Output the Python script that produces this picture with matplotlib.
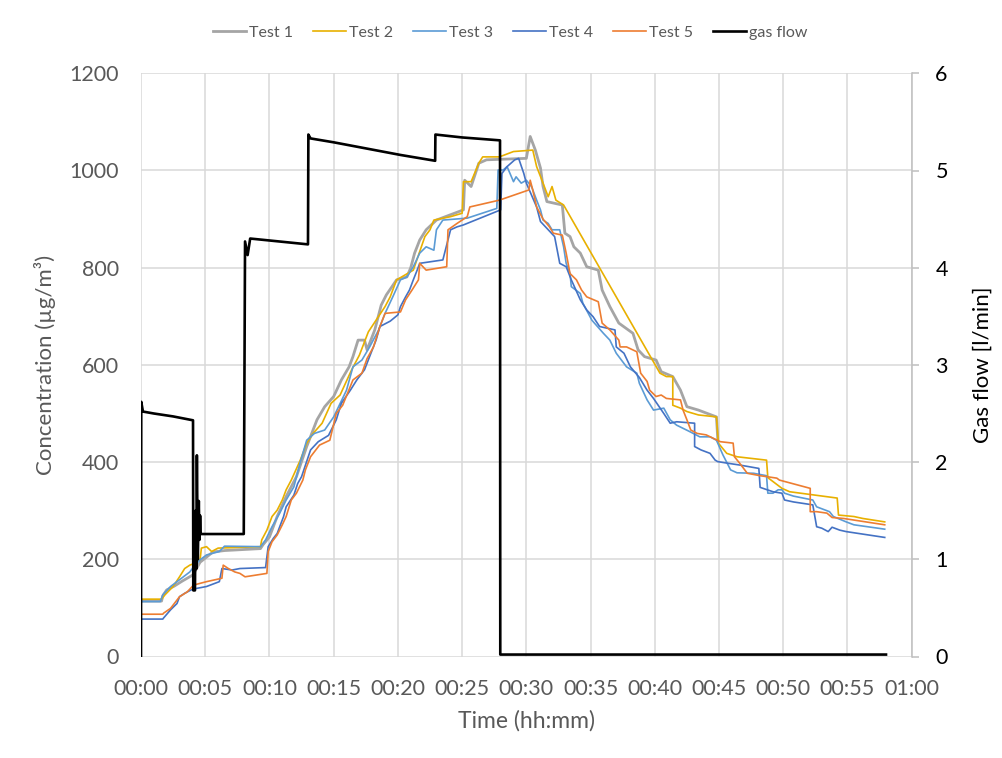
import matplotlib
matplotlib.use("Agg")
from matplotlib import pyplot as plt

plt.rcParams['font.family'] = ['Lato', 'DejaVu Sans']

# time in minutes, concentration in ug/m3
test1_t = [0, 1.6, 1.7, 2.0, 2.6, 3.2, 4.05, 4.6, 5.6, 6.5, 9.3, 9.5, 10.0, 10.6, 11.3, 12.1, 12.9, 13.7, 14.3,
           15.0, 15.6, 16.2, 16.5, 16.9, 17.4, 17.6, 18.2, 18.7, 19.1, 19.9, 20.7, 21.0, 21.3, 21.7, 22.2, 23.0,
           25.1, 25.2, 25.7, 26.3, 26.9, 30.0, 30.3, 30.7, 31.1, 31.3, 31.6, 32.8, 33.0, 33.4, 33.7, 34.2, 34.7,
           35.6, 35.9, 36.5, 37.2, 38.3, 38.7, 39.2, 40.1, 40.5, 41.4, 42.0, 42.5, 43.4, 44.8, 44.9]
test1_c = [114, 114, 125, 137, 145, 155, 168, 194, 215, 218, 222, 230, 246, 288, 329, 370, 432, 487, 514,
           535, 569, 596, 617, 651, 651, 631, 672, 723, 744, 775, 781, 800, 830, 857, 878, 898,
           919, 980, 967, 1015, 1022, 1025, 1070, 1042, 1005, 967, 936, 929, 871, 864, 843, 830, 802,
           795, 754, 720, 686, 665, 631, 617, 610, 586, 576, 548, 514, 507, 493, 448]

test2_t = [0, 1.6, 1.87, 2.5, 3.0, 3.4, 3.8, 4.2, 4.6, 4.7, 5.1, 5.5, 6.0, 9.3, 9.4, 9.8, 10.2, 10.6, 11.0,
           11.3, 11.7, 12.4, 12.9, 13.4, 14.1, 14.8, 15.5, 16.4, 17.0, 17.7, 18.3, 19.0, 19.4, 19.9, 21.2,
           22.1, 22.5, 22.8, 24.1, 25.0, 25.1, 25.7, 26.3, 26.6, 27.9, 29.0, 30.5, 30.8, 31.3, 31.7, 32.0,
           32.3, 32.9, 40.4, 40.9, 41.4, 41.4, 42.0, 42.5, 43.4, 44.8, 44.95, 45.6, 46.4, 48.7, 48.8, 49.9,
           50.5, 54.2, 54.3, 55.5, 56.2, 57.9]
test2_c = [118, 118, 127, 144, 164, 181, 188, 192, 199, 223, 226, 216, 223, 226, 240, 260, 288, 301, 322,
           343, 363, 404, 439, 459, 480, 521, 538, 590, 620, 668, 692, 720, 740, 775, 795,
           864, 878, 898, 905, 912, 977, 977, 1015, 1028, 1028, 1039, 1042, 1008, 974, 946, 967,
           939, 929, 583, 576, 576, 517, 511, 504, 497, 493, 439, 418, 411, 404, 368, 346,
           339, 326, 291, 288, 284, 277]

test3_t = [0, 1.5, 1.7, 2.3, 2.8, 3.3, 3.8, 4.2, 4.6, 5.1, 6.1, 6.5, 9.3, 9.7, 10.2, 10.8, 11.3, 11.9, 12.4,
           12.9, 13.5, 14.3, 15.0, 16.0, 16.5, 17.2, 17.8, 18.5, 19.0, 19.6, 20.2, 20.7, 21.2, 21.7, 22.2,
           22.8, 23.0, 23.5, 25.4, 27.7, 27.8, 28.2, 28.5, 29.0, 29.2, 29.6, 30.0, 30.4, 30.8, 31.1, 31.3,
           31.7, 32.0, 32.6, 32.9, 33.1, 33.4, 33.5, 34.2, 34.4, 35.1, 36.0, 36.5, 37.0, 37.8, 38.6, 38.8,
           39.4, 39.9, 40.7, 41.2, 41.7, 42.7, 43.5, 44.3, 44.8, 45.3, 45.9, 46.4, 47.7, 48.7, 48.8, 49.2,
           49.6, 49.9, 50.1, 50.8, 52.3, 52.6, 53.6, 53.9, 54.9, 55.5, 57.9]
test3_c = [113, 113, 127, 144, 154, 164, 174, 188, 199, 209, 216, 227, 226, 240, 267, 295, 322, 349, 400,
           445, 459, 466, 493, 548, 596, 610, 637, 672, 706, 740, 775, 781, 802, 830, 843,
           836, 878, 898, 902, 922, 1001, 1001, 1008, 977, 987, 974, 980, 967, 939, 919, 898,
           891, 878, 878, 843, 809, 788, 761, 747, 727, 692, 665, 651, 624, 596, 583, 562,
           528, 507, 511, 487, 476, 463, 452, 452, 445, 415, 384, 378, 377, 372, 336, 336,
           343, 343, 336, 330, 322, 308, 298, 288, 277, 271, 262]

test4_t = [0, 1.7, 1.75, 2.3, 2.8, 3.0, 3.4, 3.9, 4.3, 5.1, 6.1, 6.3, 7.1, 7.7, 9.7, 9.8, 9.9, 10.3, 10.6,
           11.1, 11.3, 11.9, 12.2, 12.5, 13.2, 13.8, 14.6, 15.2, 15.6, 16.3, 16.8, 17.4, 17.9, 18.3, 18.6,
           19.4, 20.0, 20.2, 20.6, 20.9, 21.2, 21.5, 21.7, 23.5, 24.1, 24.6, 25.1, 28.0, 28.1, 28.5, 29.1,
           29.4, 29.8, 30.0, 30.8, 31.1, 31.6, 32.2, 32.6, 33.1, 33.5, 34.2, 34.7, 35.2, 35.7, 36.9, 37.0,
           37.6, 38.1, 38.8, 39.4, 39.9, 40.7, 41.2, 41.7, 43.1, 43.1, 43.6, 44.3, 44.7, 44.9, 45.6, 46.6,
           48.1, 48.2, 49.2, 49.9, 50.1, 50.8, 52.3, 52.6, 53.0, 53.5, 53.8, 54.4, 54.9, 57.9]
test4_c = [77, 77, 79, 96, 109, 123, 130, 137, 140, 144, 154, 181, 178, 181, 183, 205, 226, 243, 253,
           288, 308, 332, 356, 370, 425, 442, 455, 487, 521, 548, 569, 590, 624, 651, 679,
           690, 703, 720, 740, 754, 775, 795, 809, 816, 878, 884, 888, 919, 994, 1008, 1022,
           1025, 994, 974, 925, 895, 881, 864, 809, 802, 775, 734, 713, 699, 679, 672, 637,
           624, 596, 574, 548, 531, 500, 480, 483, 480, 432, 425, 418, 404, 401, 398, 394,
           387, 348, 339, 336, 322, 318, 312, 267, 264, 257, 266, 260, 257, 245]

test5_t = [0, 1.7, 1.75, 2.3, 3.0, 3.6, 4.1, 5.1, 6.3, 6.4, 6.8, 7.3, 7.7, 8.1, 9.8, 9.9, 10.2, 10.6, 11.0,
           11.3, 11.7, 12.1, 12.6, 12.8, 13.2, 13.9, 14.7, 15.2, 15.7, 16.5, 17.2, 17.6, 18.1, 18.6, 19.0,
           20.2, 20.6, 21.1, 21.6, 21.7, 22.2, 23.8, 23.9, 24.6, 25.4, 25.6, 27.9, 30.2, 30.3, 30.5, 30.8,
           31.3, 31.8, 32.1, 32.8, 33.1, 33.4, 33.9, 34.3, 34.7, 35.6, 35.9, 36.5, 37.2, 37.3, 37.8, 38.6,
           38.9, 39.4, 39.6, 40.1, 40.5, 40.9, 42.0, 42.2, 42.5, 42.8, 43.3, 44.0, 45.1, 46.1, 46.2, 46.6,
           47.2, 48.2, 49.5, 49.7, 52.1, 52.1, 52.6, 53.4, 53.8, 54.7, 57.9]
test5_c = [87, 87, 89, 99, 123, 133, 147, 154, 161, 188, 181, 174, 171, 164, 171, 216, 236, 250, 271,
           288, 322, 336, 363, 384, 411, 435, 445, 500, 517, 569, 583, 613, 637, 679, 706,
           709, 734, 754, 775, 809, 795, 802, 878, 891, 905, 925, 939, 960, 980, 960, 925,
           900, 884, 871, 867, 830, 788, 775, 754, 740, 730, 686, 672, 651, 637, 637, 627,
           583, 566, 548, 535, 538, 531, 528, 507, 487, 466, 459, 456, 442, 439, 411, 398,
           377, 372, 367, 363, 346, 298, 298, 295, 286, 284, 271]

# gas flow in l/min (secondary axis)
gas_t = [0, 0.02, 0.15, 1.0, 2.5, 4.05, 4.07, 4.2, 4.25, 4.3, 4.35, 4.42, 4.5, 4.55, 4.6, 4.65, 6.0, 8.0,
         8.1, 8.3, 8.5, 10.0, 13.0, 13.03, 13.2, 15.0, 20.2, 22.9, 22.92, 25.0, 27.95, 27.97, 58.0]
gas_f = [0, 2.62, 2.52, 2.50, 2.47, 2.43, 0.68, 0.68, 1.5, 0.9, 2.07, 1.0, 1.6, 1.2, 1.45, 1.26, 1.26, 1.26,
         4.27, 4.13, 4.30, 4.28, 4.24, 5.37, 5.33, 5.29, 5.16, 5.10, 5.37, 5.34, 5.31, 0.02, 0.02]

series = [
    ("Test 1", test1_t, test1_c, "#A5A5A5", 2.0),
    ("Test 2", test2_t, test2_c, "#E8B000", 1.2),
    ("Test 3", test3_t, test3_c, "#5B9BD5", 1.2),
    ("Test 4", test4_t, test4_c, "#4472C4", 1.2),
    ("Test 5", test5_t, test5_c, "#ED7D31", 1.2),
]

x_ticks = list(range(0, 61, 5))
x_labels = ["00:%02d" % m for m in range(0, 60, 5)] + ["01:00"]

grey = "#595959"
grid = "#D9D9D9"

fig = plt.figure(figsize=(10.02, 7.58), dpi=100)
ax = fig.add_axes([141 / 1002, 1 - 656.5 / 758, 770.7 / 1002, 583.2 / 758])
ax2 = ax.twinx()

handles = []
for name, t, c, col, lw in series:
    h, = ax.plot(t, c, color=col, lw=lw, label=name)
    handles.append(h)
hg, = ax2.plot(gas_t, gas_f, color="black", lw=1.9, label="gas flow")
handles.append(hg)

ax.set_xlim(0, 60)
ax.set_ylim(0, 1200)
ax2.set_ylim(0, 6)
ax.set_xticks(x_ticks)
ax.set_xticklabels(x_labels)
ax.set_yticks(range(0, 1201, 200))
ax2.set_yticks(range(0, 7))

ax.grid(True, color=grid, lw=1.1)
ax.set_axisbelow(True)
for s in ["top", "left", "right", "bottom"]:
    ax.spines[s].set_visible(False)
    ax2.spines[s].set_visible(False)
ax2.spines["right"].set_visible(True)
ax2.spines["right"].set_color("#BFBFBF")
ax2.spines["right"].set_linewidth(1.1)

ax.tick_params(axis="x", length=0, pad=16, labelsize=15.5, labelcolor=grey)
ax.tick_params(axis="y", length=0, pad=16, labelsize=15.5, labelcolor=grey)
ax2.tick_params(axis="y", length=5, width=1.1, color="#BFBFBF", pad=12, labelsize=15.5, labelcolor="black")

fig.text(45 / 1002, 1 - 365 / 758, "Concentration (µg/m³)", rotation=90, ha="center", va="center",
         fontsize=16, color=grey)
fig.text(983 / 1002, 1 - 365 / 758, "Gas flow [l/min]", rotation=90, ha="center", va="center",
         fontsize=16, color="black")
fig.text(527 / 1002, 1 - 721 / 758, "Time (hh:mm)", ha="center", va="center", fontsize=16.5, color=grey)

fig.legend(handles=handles, loc="center", bbox_to_anchor=(510 / 1002, 1 - 33 / 758), ncol=6,
           frameon=False, fontsize=11.5, handlelength=2.1, handletextpad=0.15, columnspacing=1.25,
           labelcolor=grey)

fig.savefig("out.png", dpi=100)
